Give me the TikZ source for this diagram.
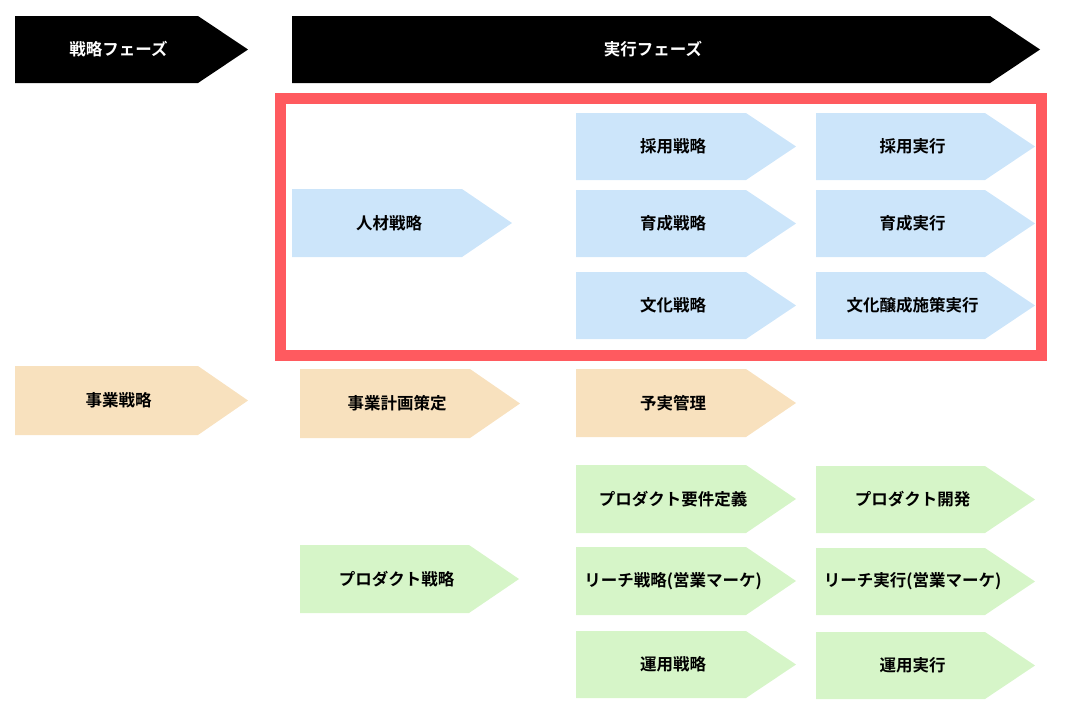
\documentclass[tikz,border=0pt]{standalone}
\usepackage{fontspec}
\newfontfamily\jp{Noto Sans CJK JP}[BoldFont={Noto Sans CJK JP Bold}]
\usepackage{tikz}
\definecolor{hrblue}{RGB}{204,229,250}
\definecolor{bizorange}{RGB}{248,225,190}
\definecolor{prodgreen}{RGB}{214,245,200}
\definecolor{focusred}{RGB}{255,90,95}
\tikzset{
  chevtext/.style={font=\jp\bfseries\fontsize{16.5}{20}\selectfont, inner sep=0pt},
  phase/.style={fill=black, text=white},
  hr/.style={fill=hrblue},
  biz/.style={fill=bizorange},
  prod/.style={fill=prodgreen}
}
% style, top-left corner, width:height, node name, text
\def\chevron[#1](#2,#3)(#4:#5)#6#7{%
  \fill[#1] (#2,#3) -- ++({#4-50},0) -- ++(50,{#5/2}) -- ++(-50,{#5/2}) -- ++({50-#4},0) -- cycle;
  \node[chevtext,#1] (#6) at ({#2+(#4-50)/2+12},{#3+#5/2}) {#7};}

\begin{document}
\begin{tikzpicture}[x=1pt,y=-1pt]
		%%%%% START %%%%%
		\useasboundingbox (0,0) rectangle (1068,716);
		
		\chevron[phase](15,16)(233:67){stratphase}{戦略フェーズ}
		\chevron[phase](292,16)(748:67){execphase}{実行フェーズ}
		
		\chevron[hr](292,189)(220:68){jinzai}{人材戦略}
		\chevron[hr](576,113)(220:67){saiyo}{採用戦略}
		\chevron[hr](576,190)(220:67){ikusei}{育成戦略}
		\chevron[hr](576,272)(220:67){bunka}{文化戦略}
		\chevron[hr](816,113)(219:67){saiyoexec}{採用実行}
		\chevron[hr](816,190)(219:67){ikuseiexec}{育成実行}
		\chevron[hr](816,272)(219:67){bunkaexec}{文化醸成施策実行}
		
		\draw[focusred, line width=11pt] (280,98) rectangle (1041,355);
		
		\chevron[biz](15,366)(233:69){jigyo}{事業戦略}
		\chevron[biz](300,369)(220:69){keikaku}{事業計画策定}
		\chevron[biz](576,369)(220:68){yojitsu}{予実管理}
		
		\chevron[prod](300,545)(219:68){product}{プロダクト戦略}
		\chevron[prod](576,465)(220:68){youken}{プロダクト要件定義}
		\chevron[prod](576,547)(220:68){reach}{リーチ戦略(営業マーケ)}
		\chevron[prod](576,631)(220:67){unyo}{運用戦略}
		\chevron[prod](816,466)(219:67){kaihatsu}{プロダクト開発}
		\chevron[prod](816,548)(219:67){reachexec}{リーチ実行(営業マーケ)}
		\chevron[prod](816,632)(219:67){unyoexec}{運用実行}
		%%%%% END %%%%%
\end{tikzpicture}
\end{document}
